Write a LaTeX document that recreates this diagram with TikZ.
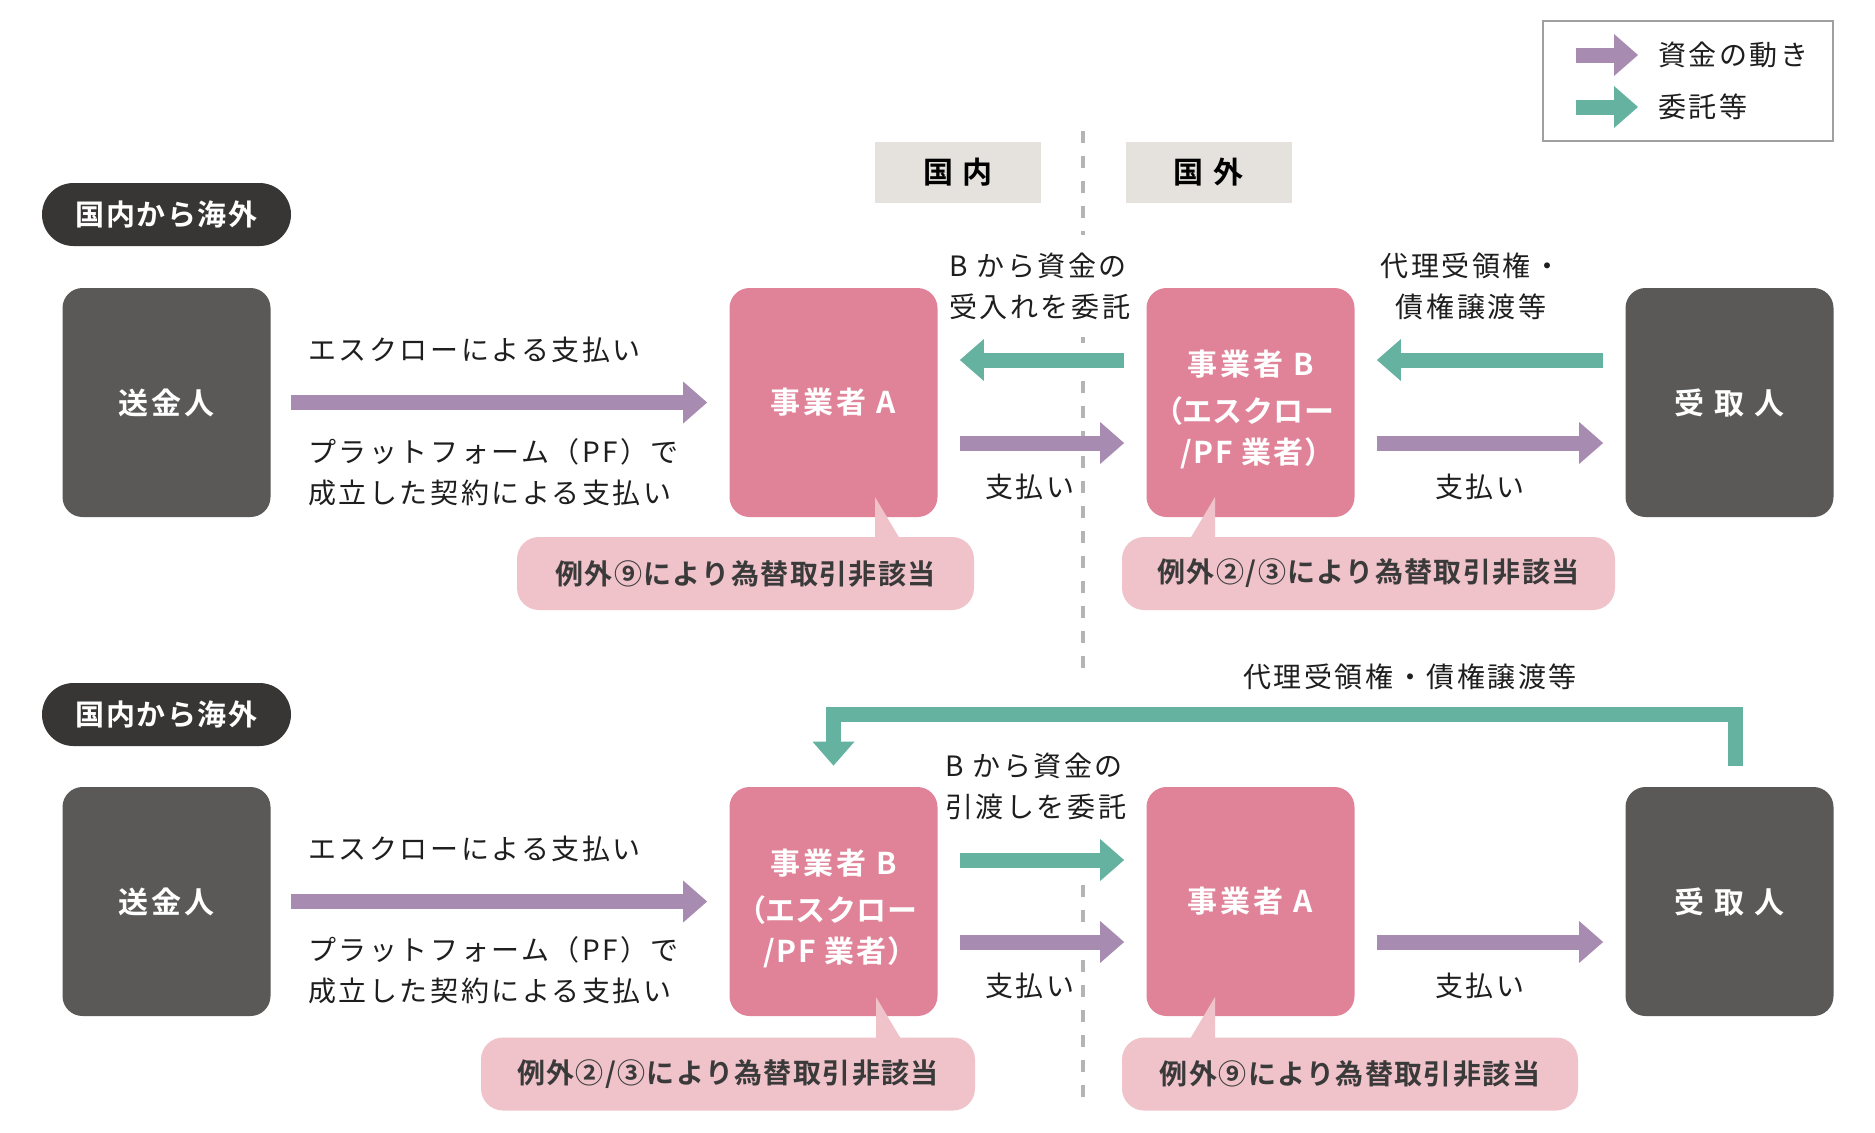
\documentclass[tikz,border=0pt]{standalone}
\usepackage{fontspec}
\setmainfont{Noto Sans CJK JP}
\newfontfamily\jpN[LetterSpace=9]{Noto Sans CJK JP}
\newfontfamily\jpB[LetterSpace=10]{Noto Sans CJK JP Bold}
\newfontfamily\jpBp[LetterSpace=6,RawFeature=+palt]{Noto Sans CJK JP Bold}
\newfontfamily\jpC[LetterSpace=5]{Noto Sans CJK JP Bold}
\usetikzlibrary{arrows.meta}
\definecolor{cpurple}{HTML}{A78BB0}
\definecolor{cgreen}{HTML}{64B29F}
\definecolor{cpink}{HTML}{E08399}
\definecolor{clpink}{HTML}{F0C3CB}
\definecolor{cdark}{HTML}{5A5958}
\definecolor{cpill}{HTML}{383635}
\definecolor{chead}{HTML}{E5E2DE}
\definecolor{cdash}{HTML}{B4B4B4}
\definecolor{ctext}{HTML}{1E1E1E}
\definecolor{ccall}{HTML}{3A3A3A}
\definecolor{cframe}{HTML}{A0A0A0}
\tikzset{
  box/.style={rectangle, rounded corners=10pt, minimum width=104pt, minimum height=114.5pt,
    inner sep=0pt, align=center, text=white, font=\jpB\fontsize{15pt}{20.5pt}\selectfont},
  darkbox/.style={box, fill=cdark},
  pinkbox/.style={box, fill=cpink},
  btext/.style={align=center, text=white, inner sep=0pt, yshift=-3.5pt,
    font=\jpB\fontsize{15pt}{20.5pt}\selectfont},
  pillbox/.style={rectangle, rounded corners=15.75pt, fill=cpill, minimum width=124.5pt,
    minimum height=31.5pt, text=white, font=\jpC\fontsize{14.5pt}{18pt}\selectfont},
  headbox/.style={rectangle, fill=chead, minimum width=83pt, minimum height=30.5pt,
    text=black, font=\jpB\fontsize{15pt}{18pt}\selectfont},
  callbox/.style={rectangle, fill=clpink, rounded corners=11pt, minimum height=36.5pt,
    text=ccall, font=\jpC\fontsize{14pt}{18pt}\selectfont},
  lbl/.style={text=ctext, inner sep=0pt, font=\jpN\fontsize{14pt}{20.5pt}\selectfont},
  money/.style={draw=cpurple, line width=7.5pt, -{Triangle[length=12pt,width=21pt,line width=0pt]}},
  trust/.style={money, draw=cgreen},
  sepline/.style={draw=cdash, line width=1.75pt, dash pattern=on 6pt off 6.5pt},
  ptr/.style={fill=clpink}
}
\newcommand{\esctext}{事業者 B\\[3pt]{\jpBp（エスクロー}\\{\jpBp/PF 業者）}}
\begin{document}
\begin{tikzpicture}[x=0.5pt,y=-0.5pt]
\useasboundingbox (0,0) rectangle (1875,1132);
\fill[white] (0,0) rectangle (1875,1132);

% legend
\node[draw=cframe, line width=0.75pt, minimum width=145pt, minimum height=60pt] (legend) at (1688,81) {};
\coordinate (lg1s) at (1576,55); \coordinate (lg1e) at (1638,55);
\coordinate (lg2s) at (1576,107); \coordinate (lg2e) at (1638,107);
\draw[money] (lg1s) -- (lg1e);
\draw[trust] (lg2s) -- (lg2e);
\node[lbl, anchor=west] (lgt1) at (1658,55) {資金の動き};
\node[lbl, anchor=west] (lgt2) at (1658,107) {委託等};

% domestic / foreign headers
\node[headbox] (hdom) at (958,172.5) {国 内};
\node[headbox] (hfor) at (1208.5,172.5) {国 外};

% separator lines
\draw[sepline] (1083,131) -- (1083,670);
\draw[sepline] (1083,885) -- (1083,1100);

% ===== top row =====
\node[pillbox] (pill1) at (166.5,214.5) {国内から海外};
\node[darkbox] (sender1) at (166.5,402.5) {送金人};
\node[pinkbox] (A1) at (833.5,402.5) {事業者 A};
\node[pinkbox, label={[btext]center:\esctext}] (B1) at (1250.5,402.5) {};
\node[darkbox] (recv1) at (1729.5,402.5) {受 取 人};

\node[lbl, anchor=west] (t1a) at (308,350) {エスクローによる支払い};
\node[lbl, anchor=west, align=left] (t1b) at (308,472) {プラットフォーム（PF）で\\成立した契約による支払い};
\node[lbl, anchor=west, align=left, fill=white, inner ysep=9pt, inner xsep=2pt] (t1c) at (945,286) {B から資金の\\受入れを委託};
\node[lbl, align=center] (t1d) at (1471,286) {代理受領権・\\債権譲渡等};
\node[lbl] (t1e) at (1030,487) {支払い};
\node[lbl] (t1f) at (1480,487) {支払い};

\draw[money] ([xshift=10pt]sender1.east) -- ([xshift=-11pt]A1.west);
\draw[trust] ([xshift=-11pt,yshift=21.25pt]B1.west) -- ([xshift=11pt,yshift=21.25pt]A1.east);
\draw[money] ([xshift=11pt,yshift=-20.25pt]A1.east) -- ([xshift=-11pt,yshift=-20.25pt]B1.west);
\draw[trust] ([xshift=-11pt,yshift=21.25pt]recv1.west) -- ([xshift=11pt,yshift=21.25pt]B1.east);
\draw[money] ([xshift=11pt,yshift=-20.25pt]B1.east) -- ([xshift=-11pt,yshift=-20.25pt]recv1.west);

\fill[ptr] (875,497) -- (900,539) -- (875,539) -- cycle;
\fill[ptr] (1215,497) -- (1215,539) -- (1190,539) -- cycle;
\node[callbox, minimum width=228.5pt] (callA1) at (745.5,573.5) {例外⑨により為替取引非該当};
\node[callbox, minimum width=246.5pt] (callB1) at (1368.5,573.5) {例外②/③により為替取引非該当};

% ===== bottom row =====
\node[pillbox] (pill2) at (166.5,714.5) {国内から海外};
\node[darkbox] (sender2) at (166.5,901.5) {送金人};
\node[pinkbox, label={[btext]center:\esctext}] (B2) at (833.5,901.5) {};
\node[pinkbox] (A2) at (1250.5,901.5) {事業者 A};
\node[darkbox] (recv2) at (1729.5,901.5) {受 取 人};

\node[lbl, anchor=west] (t2a) at (308,849) {エスクローによる支払い};
\node[lbl, anchor=west, align=left] (t2b) at (308,970) {プラットフォーム（PF）で\\成立した契約による支払い};
\node[lbl, anchor=west, align=left] (t2c) at (945,786) {B から資金の\\引渡しを委託};
\node[lbl] (t2d) at (1410,677) {代理受領権・債権譲渡等};
\node[lbl] (t2e) at (1030,986) {支払い};
\node[lbl] (t2f) at (1480,986) {支払い};

\draw[money] ([xshift=10pt]sender2.east) -- ([xshift=-11pt]B2.west);
\draw[trust] ([xshift=11pt,yshift=20.75pt]B2.east) -- ([xshift=-11pt,yshift=20.75pt]A2.west);
\draw[money] ([xshift=11pt,yshift=-20.25pt]B2.east) -- ([xshift=-11pt,yshift=-20.25pt]A2.west);
\draw[money] ([xshift=11pt,yshift=-20.25pt]A2.east) -- ([xshift=-11pt,yshift=-20.25pt]recv2.west);
\coordinate (brS) at ([xshift=2.75pt,yshift=10.5pt]recv2.north);
\coordinate (brE) at ([yshift=10.5pt]B2.north);
\draw[trust, line join=miter] (brS) -- ++(0,-51) -| (brE);

\fill[ptr] (876,997) -- (901,1039) -- (876,1039) -- cycle;
\fill[ptr] (1215,997) -- (1215,1039) -- (1190,1039) -- cycle;
\node[callbox, minimum width=247pt] (callB2) at (728,1074) {例外②/③により為替取引非該当};
\node[callbox, minimum width=228pt] (callA2) at (1350,1074) {例外⑨により為替取引非該当};
\end{tikzpicture}
\end{document}
